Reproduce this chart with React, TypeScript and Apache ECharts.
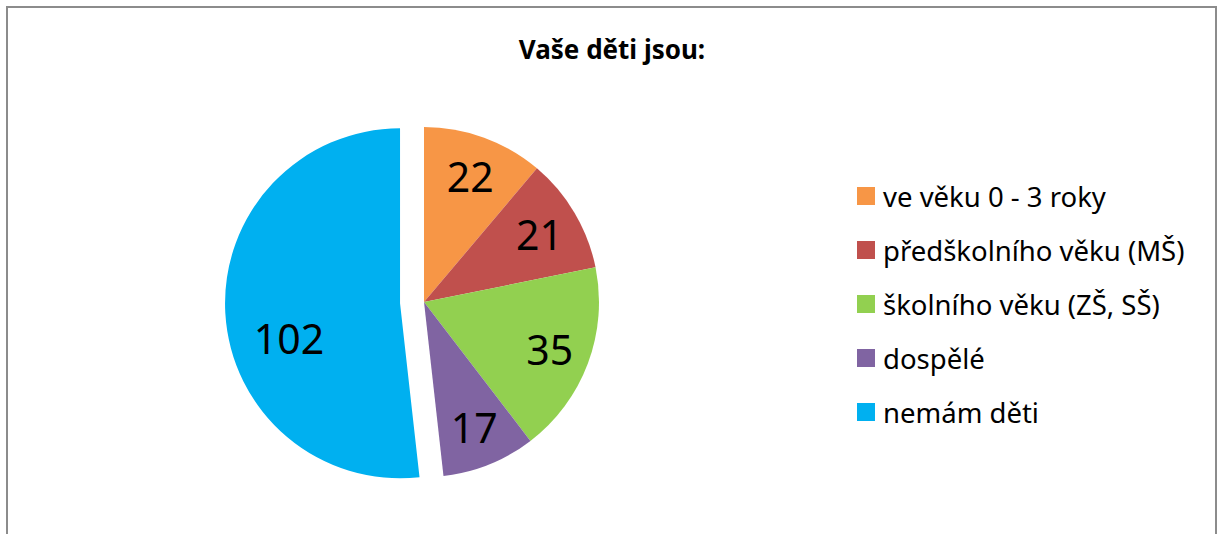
import React, { useEffect, useRef } from "react";
import * as echarts from "echarts";

const titleText = "Vaše děti jsou:";
const categories = [
  "ve věku 0 - 3 roky",
  "předškolního věku (MŠ)",
  "školního věku (ZŠ, SŠ)",
  "dospělé",
  "nemám děti",
];
const values = [22, 21, 35, 17, 102];
const colors = ["#F79646", "#C0504D", "#92D050", "#8064A2", "#00B0F0"];
const explodedIndex = 4;

export default function App() {
  const ref = useRef<HTMLDivElement>(null);
  useEffect(() => {
    document.body.style.margin = "0";
    const chart = echarts.init(ref.current!, null, { renderer: "svg" });
    const font = "'Noto Sans', 'Open Sans', sans-serif";
    const center = [424, 302];
    const R = 175;
    const mainData = categories.map((name, i) => ({
      name,
      value: values[i],
      selected: i === explodedIndex,
      itemStyle: { color: colors[i], borderWidth: 0 },
      select: { itemStyle: { color: colors[i], borderWidth: 0 } },
    }));
    const explodedLabel = { verticalAlign: "top", padding: [7, 0, 0, 46] };
    const labelData = categories.map((name, i) => ({
      name,
      value: values[i],
      selected: i === explodedIndex,
      label: i === explodedIndex ? explodedLabel : {},
      select: { label: i === explodedIndex ? explodedLabel : {} },
    }));
    chart.setOption({
      animation: false,
      title: {
        text: titleText,
        left: "center",
        top: 36,
        padding: 0,
        textStyle: {
          fontFamily: font,
          fontSize: 26,
          fontWeight: "bold",
          color: "#000",
        },
      },
      legend: {
        orient: "vertical",
        left: 857,
        top: 181,
        padding: 0,
        itemWidth: 18,
        itemHeight: 18,
        itemGap: 24,
        icon: "rect",
        selectedMode: false,
        data: categories,
        textStyle: {
          fontFamily: font,
          fontSize: 27.5,
          lineHeight: 30,
          color: "#000",
          padding: [0, 0, 0, 3],
        },
      },
      graphic: [
        {
          type: "rect",
          silent: true,
          shape: { x: 7, y: 7, width: 1209, height: 545 },
          style: { fill: "none", stroke: "#8c8c8c", lineWidth: 2 },
        },
      ],
      series: [
        {
          type: "pie",
          center,
          radius: [0, R],
          startAngle: 90,
          clockwise: true,
          selectedMode: "single",
          selectedOffset: 24,
          silent: true,
          label: { show: false },
          labelLine: { show: false },
          emphasis: { disabled: true },
          data: mainData,
        },
        {
          type: "pie",
          center,
          radius: [R / 2, R],
          startAngle: 90,
          clockwise: true,
          selectedMode: "single",
          selectedOffset: 24,
          silent: true,
          z: 5,
          itemStyle: { color: "transparent", borderWidth: 0 },
          select: { itemStyle: { color: "transparent", borderWidth: 0 } },
          emphasis: { disabled: true },
          labelLine: { show: false },
          label: {
            show: true,
            position: "inside",
            formatter: "{c}",
            fontFamily: font,
            fontSize: 41,
            color: "#000",
          },
          data: labelData,
        },
      ],
    });
    return () => chart.dispose();
  }, []);
  return <div ref={ref} style={{ width: 1224, height: 534 }} />;
}
